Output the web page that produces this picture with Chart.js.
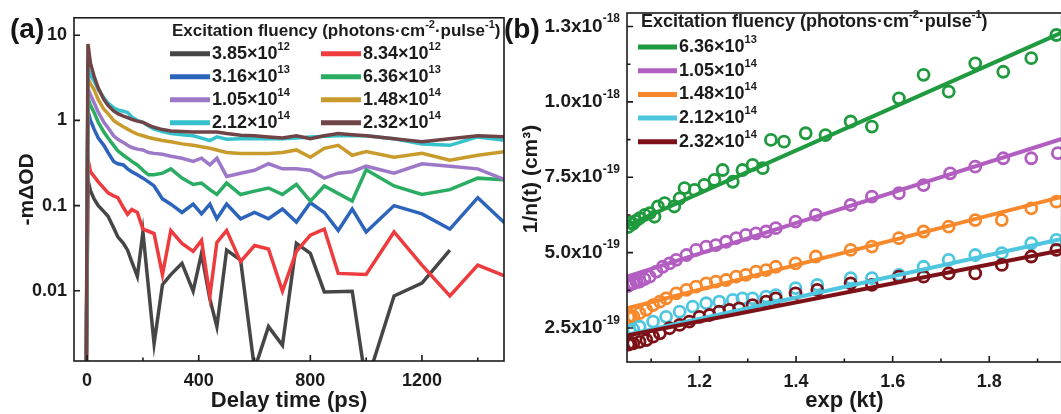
<!DOCTYPE html>
<html>
<head>
<meta charset="utf-8">
<script src="https://cdn.jsdelivr.net/npm/chart.js@4.4.0/dist/chart.umd.min.js"></script>
<style>
  html, body { margin: 0; padding: 0; background: #fff; overflow: hidden; width: 1061px; height: 414px; }
  #chartA { position: absolute; left: 0; top: 0; }
  #chartB { position: absolute; left: 515px; top: 0; }
  .tag { position: absolute; font: bold 28px "Liberation Sans", Arial, sans-serif; line-height: 1; color: #151515; }
</style>
</head>
<body>
<canvas id="chartA" width="515" height="414"></canvas>
<canvas id="chartB" width="555" height="414"></canvas>
<div class="tag" style="left:10px;top:15px">(a)</div>
<div class="tag" style="left:504px;top:15px">(b)</div>
<script>
const FONT = '"Liberation Sans", Arial, Helvetica, sans-serif';
const INK = '#1b1b1b';

// ---------- panel (a): -mΔOD decays, log scale ----------
const timePs = [-5, 3, 12, 25, 40, 60, 75, 95, 110, 130, 145, 160, 180, 200, 220, 240, 270, 300, 340, 380,
                410, 440, 465, 500, 550, 600, 650, 700, 750, 800, 850, 900, 950, 1000, 1100, 1200, 1300, 1400, 1500];

const od385e12 = [1e-4, 0.2, 0.15, 0.12, 0.1, 0.085, 0.075, 0.055, 0.043, 0.036, 0.030, 0.022, 0.0148, 0.049, null, 0.0024, 0.0118, 0.0155, 0.021, 0.0099,
                  0.0275, 0.008, 0.0038, 0.030, 0.023, 0.0012, 0.0038, 0.0023, 0.036, 0.0275, 0.0097, null, 0.0099, 0.0008, 0.0087, 0.0123, 0.030, null, null];
const od834e12 = [1e-4, 0.35, 0.25, 0.22, 0.19, 0.16, 0.141, 0.13, 0.124, 0.095, 0.079, 0.09, 0.083, 0.053, 0.05, 0.047, 0.0155, 0.051, 0.036, 0.029,
                  0.039, 0.0087, 0.037, 0.051, 0.022, 0.034, 0.031, 0.0099, 0.029, 0.045, 0.053, 0.016, null, 0.0155, 0.049, 0.020, 0.0087, 0.020, 0.0148];
const od316e13 = [1e-4, 1.3, 1.0, 0.79, 0.62, 0.51, 0.42, 0.33, 0.31, 0.30, 0.27, 0.25, 0.23, 0.21, 0.19, 0.17, 0.12, 0.104, 0.083, 0.104,
                  0.080, 0.104, 0.070, 0.104, 0.070, 0.083, 0.070, 0.091, 0.064, 0.108, 0.083, 0.051, 0.091, 0.049, 0.100, 0.080, 0.053, 0.124, 0.061];
const od636e13 = [1e-4, 1.84, 1.5, 1.24, 0.95, 0.73, 0.62, 0.51, 0.44, 0.39, 0.36, 0.33, 0.30, 0.26, 0.23, 0.23, 0.24, 0.27, 0.21, 0.177,
                  0.184, 0.154, 0.135, 0.184, 0.135, 0.148, 0.161, 0.135, 0.177, 0.113, 0.17, null, 0.113, 0.263, 0.17, 0.135, 0.154, 0.21, 0.20];
const od105e14 = [1e-4, 2.4, 2.0, 1.61, 1.25, 0.95, 0.82, 0.66, 0.6, 0.55, 0.51, 0.48, 0.46, 0.45, 0.42, 0.41, 0.40, 0.38, 0.36, 0.33,
                  0.36, 0.30, 0.36, 0.22, 0.24, 0.26, 0.31, 0.27, 0.27, 0.26, 0.21, 0.24, 0.25, 0.29, 0.24, 0.31, 0.29, 0.27, 0.20];
const od148e14 = [1e-4, 3.1, 2.7, 2.3, 1.75, 1.35, 1.2, 1.0, 0.92, 0.84, 0.79, 0.74, 0.69, 0.66, 0.63, 0.61, 0.58, 0.56, 0.53, 0.51,
                  0.49, 0.47, 0.45, 0.42, 0.41, 0.41, 0.41, 0.42, 0.45, 0.37, 0.47, 0.51, 0.39, 0.43, 0.37, 0.41, 0.34, 0.39, 0.43];
const od212e14 = [1e-4, 4.1, 3.4, 2.9, 2.3, 1.84, 1.6, 1.41, 1.33, 1.28, 1.24, 1.1, 1.0, 0.95, 0.86, 0.79, 0.74, 0.70, 0.68, 0.66,
                  0.62, 0.58, 0.64, 0.60, 0.61, 0.61, 0.61, 0.61, 0.62, 0.64, 0.65, 0.66, 0.66, 0.66, 0.61, 0.53, 0.51, 0.64, 0.58];
const od232e14 = [1e-4, 7.9, 4.7, 3.3, 2.4, 1.76, 1.5, 1.29, 1.2, 1.12, 1.08, 1.03, 0.98, 0.95, 0.88, 0.83, 0.78, 0.75, 0.74, 0.73,
                  0.73, 0.73, 0.73, 0.70, 0.67, 0.66, 0.64, 0.62, 0.66, 0.61, 0.66, 0.70, 0.68, 0.66, 0.61, 0.56, 0.61, 0.66, 0.64];

const seriesA = [od385e12, od834e12, od316e13, od636e13, od105e14, od148e14, od212e14, od232e14];
const fluenceA = ['3.85×10^12', '8.34×10^12', '3.16×10^13', '6.36×10^13', '1.05×10^14', '1.48×10^14', '2.12×10^14', '2.32×10^14'];
const coloursA = ['#464646', '#ee3b3e', '#2d64bb', '#2aac63', '#9d78c8', '#c89b2c', '#35c2cc', '#6f4447'];
const xTicksA = [0, 400, 800, 1200];
const xMinorA = [200, 600, 1000, 1400];
const yTicksA = [0.01, 0.1, 1, 10];

// ---------- panel (b): 1/n(t) vs exp(kt), values in 1e-19 cm^3 ----------
const greenX = [1.053, 1.057, 1.062, 1.068, 1.076, 1.087, 1.097, 1.107, 1.114, 1.128, 1.148, 1.159, 1.169, 1.190, 1.210, 1.231, 1.248, 1.269,
                1.289, 1.310, 1.331, 1.348, 1.375, 1.420, 1.461, 1.513, 1.557, 1.613, 1.664, 1.716, 1.771, 1.829, 1.887, 1.939];
const greenY = [5.85, 6.00, 5.95, 6.05, 6.14, 6.25, 6.31, 6.19, 6.53, 6.64, 6.53, 6.80, 7.14, 7.08, 7.25, 7.41, 7.74, 7.35,
                7.74, 7.91, 7.80, 8.74, 8.68, 8.96, 8.90, 9.35, 9.18, 10.12, 10.90, 10.34, 11.28, 11.00, 11.45, 12.22];
const purpleX = [1.053, 1.057, 1.063, 1.070, 1.076, 1.086, 1.097, 1.111, 1.124, 1.138, 1.152, 1.173, 1.193, 1.214, 1.234, 1.255, 1.276,
                 1.296, 1.317, 1.338, 1.358, 1.399, 1.441, 1.513, 1.557, 1.613, 1.664, 1.719, 1.771, 1.829, 1.887, 1.942];
const purpleY = [3.90, 3.95, 3.98, 4.02, 4.04, 4.12, 4.20, 4.37, 4.53, 4.64, 4.76, 4.92, 5.09, 5.20, 5.25, 5.36, 5.48,
                 5.59, 5.64, 5.70, 5.81, 6.03, 6.25, 6.58, 6.86, 6.97, 7.24, 7.63, 7.85, 8.13, 8.13, 8.30];
const orangeX = [1.053, 1.057, 1.063, 1.076, 1.090, 1.104, 1.118, 1.131, 1.152, 1.173, 1.193, 1.214, 1.234, 1.255, 1.276, 1.296,
                 1.317, 1.338, 1.358, 1.399, 1.441, 1.513, 1.557, 1.613, 1.664, 1.716, 1.771, 1.826, 1.887, 1.939];
const orangeY = [2.85, 2.90, 2.88, 2.99, 3.10, 3.26, 3.37, 3.48, 3.65, 3.76, 3.87, 3.98, 4.04, 4.09, 4.20, 4.26,
                 4.37, 4.42, 4.53, 4.64, 4.87, 5.09, 5.20, 5.48, 5.70, 5.86, 6.08, 6.08, 6.47, 6.69];
const tealX = [1.056, 1.063, 1.076, 1.104, 1.131, 1.159, 1.186, 1.214, 1.241, 1.269, 1.289, 1.310, 1.338,
               1.358, 1.399, 1.444, 1.513, 1.557, 1.613, 1.664, 1.716, 1.771, 1.826, 1.887, 1.939];
const tealY = [2.40, 2.45, 2.54, 2.71, 2.87, 3.04, 3.21, 3.32, 3.37, 3.43, 3.48, 3.48, 3.54,
               3.59, 3.82, 3.93, 4.15, 4.15, 4.26, 4.53, 4.76, 4.92, 4.98, 5.31, 5.42];
const brownX = [1.053, 1.057, 1.063, 1.076, 1.090, 1.104, 1.118, 1.138, 1.159, 1.179, 1.200, 1.221, 1.241, 1.262, 1.282, 1.310,
                1.338, 1.358, 1.399, 1.444, 1.513, 1.557, 1.613, 1.664, 1.716, 1.771, 1.826, 1.887, 1.939];
const brownY = [1.95, 2.00, 1.99, 2.04, 2.10, 2.21, 2.32, 2.49, 2.60, 2.71, 2.87, 2.93, 3.04, 3.10, 3.15, 3.26,
                3.37, 3.48, 3.65, 3.76, 3.98, 3.93, 4.20, 4.20, 4.31, 4.31, 4.59, 4.87, 5.09];

// linear fits, read at the two ends of the axis
const fitX = [1.05, 1.95];
const fitGreen = [5.90, 12.30];
const fitPurple = [4.20, 8.77];
const fitOrange = [3.15, 6.85];
const fitTeal = [2.27, 5.45];
const fitBrown = [2.25, 5.08];

const pointsB = [[greenX, greenY], [purpleX, purpleY], [orangeX, orangeY], [tealX, tealY], [brownX, brownY]];
const fitsB = [fitGreen, fitPurple, fitOrange, fitTeal, fitBrown];
const fluenceB = ['6.36×10^13', '1.05×10^14', '1.48×10^14', '2.12×10^14', '2.32×10^14'];
const coloursB = ['#1f9a3e', '#b25ec0', '#f7892c', '#4ec6df', '#7c1217'];
const xTicksB = [1.2, 1.4, 1.6, 1.8];
const xMinorB = [1.1, 1.3, 1.5, 1.7, 1.9];
const yTicksB = [2.5, 5.0, 7.5, 10, 12.5];
const yMinorB = [3.75, 6.25, 8.75, 11.25];
const yLabelsB = ['2.5x10^-19', '5.0x10^-19', '7.5x10^-19', '1.0x10^-18', '1.3x10^-18'];

const legendTitle = 'Excitation fluency (photons·cm^-2^·pulse^-1^)';

// text with ^superscript^ parts
function rich(ctx, str, x, y, size, align) {
  const parts = str.split('^');
  const fonts = parts.map((p, i) => 'bold ' + (i % 2 ? Math.round(size * 0.62) : size) + 'px ' + FONT);
  let w = 0;
  parts.forEach((p, i) => { ctx.font = fonts[i]; w += ctx.measureText(p).width; });
  let cx = align === 'right' ? x - w : x;
  ctx.textBaseline = 'middle';
  ctx.textAlign = 'left';
  ctx.fillStyle = INK;
  parts.forEach((p, i) => {
    ctx.font = fonts[i];
    ctx.fillText(p, cx, i % 2 ? y - size * 0.4 : y);
    cx += ctx.measureText(p).width;
  });
}

// frame, inward ticks, rich tick labels and in-plot legend
const decor = {
  id: 'decor',
  afterDraw(chart, args, o) {
    const { ctx, chartArea: a, scales: { x, y } } = chart;
    ctx.save();
    ctx.strokeStyle = INK;
    ctx.lineWidth = 1.6;
    ctx.strokeRect(a.left, a.top, a.right - a.left, a.bottom - a.top);
    ctx.beginPath();
    x.ticks.forEach(t => { const p = x.getPixelForValue(t.value); ctx.moveTo(p, a.bottom); ctx.lineTo(p, a.bottom - 6); });
    (o.minorX || []).forEach(v => { const p = x.getPixelForValue(v); ctx.moveTo(p, a.bottom); ctx.lineTo(p, a.bottom - 3.5); });
    y.ticks.forEach(t => { const p = y.getPixelForValue(t.value); ctx.moveTo(a.left, p); ctx.lineTo(a.left + 6, p); });
    (o.minorY || []).forEach(v => { const p = y.getPixelForValue(v); ctx.moveTo(a.left, p); ctx.lineTo(a.left + 3.5, p); });
    ctx.stroke();

    if (o.yLabels) {
      y.ticks.forEach((t, i) => rich(ctx, o.yLabels[i], a.left - 7, y.getPixelForValue(t.value), 19, 'right'));
    }
    if (o.yTitle) {
      ctx.save();
      ctx.translate(o.yTitle.x, o.yTitle.y);
      ctx.rotate(-Math.PI / 2);
      ctx.font = 'bold 21px ' + FONT;
      ctx.fillStyle = INK;
      ctx.textAlign = 'center';
      ctx.textBaseline = 'middle';
      ctx.fillText(o.yTitle.text, 0, 0);
      ctx.restore();
    }

    const L = o.legend;
    rich(ctx, L.title, a.left + L.titleDx, a.top + L.titleDy, L.titleSize, 'left');
    L.labels.forEach((lab, i) => {
      const col = i % L.cols, row = Math.floor(i / L.cols);
      const lx = a.left + L.dx + col * L.colGap;
      const ly = a.top + L.dy + row * L.rowGap;
      ctx.strokeStyle = L.colours[i];
      ctx.lineWidth = 5;
      ctx.beginPath();
      ctx.moveTo(lx, ly);
      ctx.lineTo(lx + L.lineLen, ly);
      ctx.stroke();
      rich(ctx, lab, lx + L.lineLen + 2, ly, 18, 'left');
    });
    ctx.restore();
  }
};

const tickFont = { family: FONT, size: 18, weight: 'bold' };
const titleFont = { family: FONT, size: 22, weight: 'bold' };

new Chart(document.getElementById('chartA'), {
  type: 'line',
  data: {
    datasets: seriesA.map((vals, i) => ({
      label: fluenceA[i],
      data: timePs.map((t, k) => ({ x: t, y: vals[k] })),
      borderColor: coloursA[i],
      borderWidth: 3.5,
      pointRadius: 0,
      spanGaps: true,
      tension: 0,
      order: seriesA.length - i
    }))
  },
  options: {
    responsive: false,
    animation: false,
    events: [],
    layout: { padding: { top: 14, right: 11, left: 0, bottom: 0 } },
    plugins: {
      legend: { display: false },
      tooltip: { enabled: false },
      decor: {
        minorX: xMinorA,
        legend: { title: legendTitle, titleSize: 17, titleDx: 98, titleDy: 14, labels: fluenceA, colours: coloursA,
                  cols: 2, dx: 96, colGap: 151, dy: 36, rowGap: 23, lineLen: 40 }
      }
    },
    scales: {
      x: {
        type: 'linear', min: -47, max: 1494,
        afterBuildTicks: s => { s.ticks = xTicksA.map(v => ({ value: v })); },
        afterFit: s => { s.height = 53; },
        grid: { display: false, drawTicks: false },
        border: { display: false },
        ticks: { font: tickFont, color: INK, padding: 9, maxRotation: 0, callback: v => String(v) },
        title: { display: true, text: 'Delay time (ps)', font: titleFont, color: INK, padding: { top: 0, bottom: 0 } }
      },
      y: {
        type: 'logarithmic', min: 0.0015, max: 16,
        afterBuildTicks: s => { s.ticks = yTicksA.map(v => ({ value: v })); },
        afterFit: s => { s.width = 74; },
        grid: { display: false, drawTicks: false },
        border: { display: false },
        ticks: { font: tickFont, color: INK, padding: 7, callback: v => String(v) },
        title: { display: true, text: '-mΔOD', font: { family: FONT, size: 21, weight: 'bold' }, color: INK, padding: { top: 15, bottom: 0 } }
      }
    }
  },
  plugins: [decor]
});

const datasetsB = [];
pointsB.forEach(([xs, ys], i) => {
  datasetsB.push({
    label: fluenceB[i] + ' fit',
    data: fitX.map((v, k) => ({ x: v, y: fitsB[i][k] })),
    showLine: true,
    borderColor: coloursB[i],
    borderWidth: 4,
    pointRadius: 0,
    order: 4 - i
  });
  datasetsB.push({
    label: fluenceB[i],
    data: xs.map((v, k) => ({ x: v, y: ys[k] })),
    showLine: false,
    borderColor: coloursB[i],
    backgroundColor: 'rgba(0,0,0,0)',
    borderWidth: 2.8,
    pointRadius: 5.5,
    pointStyle: 'circle',
    order: 10 + (4 - i)
  });
});

new Chart(document.getElementById('chartB'), {
  type: 'scatter',
  data: { datasets: datasetsB },
  options: {
    responsive: false,
    animation: false,
    events: [],
    layout: { padding: { top: 13, right: 7, left: 0, bottom: 0 } },
    plugins: {
      legend: { display: false },
      tooltip: { enabled: false },
      decor: {
        minorX: xMinorB,
        minorY: yMinorB,
        yLabels: yLabelsB,
        yTitle: { text: '1/n(t) (cm³)', x: 16, y: 179 },
        legend: { title: legendTitle, titleSize: 18, titleDx: 14, titleDy: 9, labels: fluenceB, colours: coloursB,
                  cols: 1, dx: 11, colGap: 0, dy: 34, rowGap: 23.7, lineLen: 39 }
      }
    },
    scales: {
      x: {
        type: 'linear', min: 1.05, max: 1.95,
        afterBuildTicks: s => { s.ticks = xTicksB.map(v => ({ value: v })); },
        afterFit: s => { s.height = 52; },
        grid: { display: false, drawTicks: false },
        border: { display: false },
        ticks: { font: tickFont, color: INK, padding: 9, maxRotation: 0, callback: v => v.toFixed(1) },
        title: { display: true, text: 'exp (kt)', font: titleFont, color: INK, padding: { top: 0, bottom: 0 } }
      },
      y: {
        type: 'linear', min: 1.37, max: 12.95,
        afterBuildTicks: s => { s.ticks = yTicksB.map(v => ({ value: v })); },
        afterFit: s => { s.width = 112; },
        grid: { display: false, drawTicks: false },
        border: { display: false },
        ticks: { display: false },
        title: { display: false }
      }
    }
  },
  plugins: [decor]
});
</script>
</body>
</html>
